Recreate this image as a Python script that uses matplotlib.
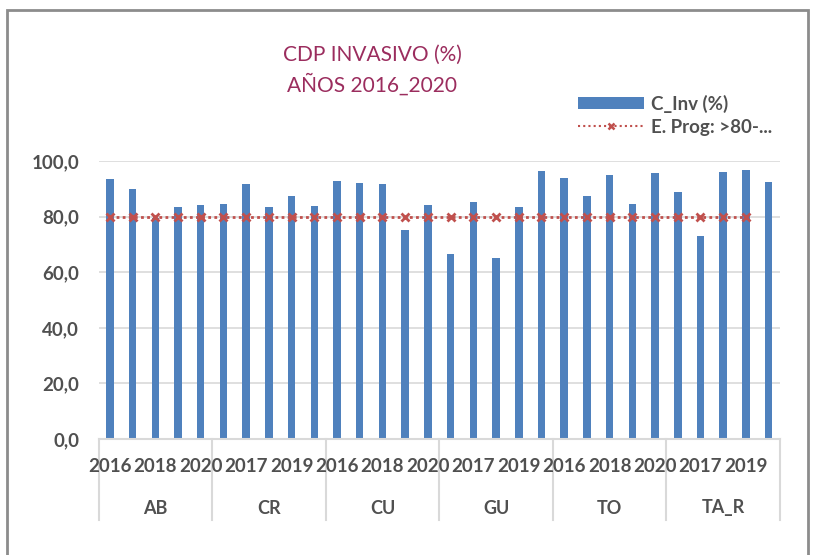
import matplotlib
matplotlib.use("Agg")
import matplotlib.pyplot as plt
import matplotlib.transforms as mtransforms
from matplotlib.patches import Rectangle, Patch
from matplotlib.lines import Line2D
import numpy as np

plt.rcParams['font.family'] = ['Lato', 'DejaVu Sans']

groups = ["AB", "CR", "CU", "GU", "TO", "TA_R"]
years = ["2016", "2017", "2018", "2019", "2020"]
c_inv = [93.6, 89.9, 79.4, 83.5, 84.1,
         84.4, 91.9, 83.6, 87.5, 83.8,
         92.8, 92.2, 91.9, 75.0, 84.0,
         66.5, 85.1, 65.0, 83.3, 96.4,
         94.0, 87.4, 94.9, 84.5, 95.7,
         88.8, 72.9, 96.0, 96.8, 92.3]
e_prog = [80] * 29 + [np.nan]

W, H = 814, 555
TXT = "#505050"
fig = plt.figure(figsize=(W / 100, H / 100), dpi=100)
ax = fig.add_axes([98.5 / W, 1 - 439 / H, (780 - 98.5) / W, (439 - 161) / H])

x = np.arange(len(c_inv))
ax.bar(x, c_inv, width=0.33, color="#4F81BD", zorder=2)
ax.plot(x, e_prog, color="#C0504D", linestyle=(0, (1, 1.2)), linewidth=2,
        marker="x", markersize=6, markeredgewidth=2, zorder=3)

ax.set_xlim(-0.5, len(c_inv) - 0.5)
ax.set_ylim(0, 100)
yt = [0, 20, 40, 60, 80, 100]
ax.set_yticks(yt)
ax.set_yticklabels([f"{v:.1f}".replace(".", ",") for v in yt],
                   fontsize=13.5, fontweight="bold", color=TXT)
ax.tick_params(axis="y", length=0, pad=14)
ax.grid(axis="y", color="#D9D9D9", linewidth=1.2, zorder=0)
for s in ["top", "right", "left"]:
    ax.spines[s].set_visible(False)
ax.spines["bottom"].set_color("#D9D9D9")
ax.spines["bottom"].set_linewidth(1.5)
ax.set_xticks([])

# category axis labels
trans = mtransforms.blended_transform_factory(ax.transData, ax.transAxes)
ph = 439 - 161
for i in range(len(c_inv)):
    if i % 2 == 0:
        ax.text(i, -28 / ph, years[i % 5], transform=trans, ha="center", va="center",
                fontsize=13.5, fontweight="bold", color=TXT)
for g, name in enumerate(groups):
    ax.text(g * 5 + 2, -69 / ph, name, transform=trans, ha="center", va="center",
            fontsize=13, fontweight="bold", color=TXT)
for b in range(len(groups) + 1):
    ax.plot([b * 5 - 0.5, b * 5 - 0.5], [0, -81 / ph], transform=trans,
            color="#D9D9D9", linewidth=1.5, clip_on=False)

# title
fig.text(372 / W, 1 - 55 / H, "CDP INVASIVO (%)", ha="center", va="center",
         fontsize=15, color="#9B2D5E")
fig.text(372 / W, 1 - 84 / H, "AÑOS 2016_2020", ha="center", va="center",
         fontsize=15, color="#9B2D5E")

# legend
handles = [Patch(facecolor="#4F81BD", edgecolor="none"),
           Line2D([], [], color="#C0504D", linestyle=(0, (1, 1.5)), linewidth=1.5,
                  marker="x", markersize=5, markeredgewidth=1.8)]
leg = fig.legend(handles, ["C_Inv (%)", "E. Prog: >80-..."], loc="upper left",
                 bbox_to_anchor=(561 / W, 1 - 78 / H), frameon=False,
                 prop={"size": 13.5, "weight": "bold"}, handlelength=3.5,
                 handleheight=0.6, labelspacing=0.3, handletextpad=0.4)
for t in leg.get_texts():
    t.set_color(TXT)

# outer border
fig.patches.append(Rectangle((7 / W, -0.1), (808 - 7) / W, 1.1 - 10 / H,
                             transform=fig.transFigure, fill=False,
                             edgecolor="#8C8C8C", linewidth=2))

fig.savefig("out.png", dpi=100)
